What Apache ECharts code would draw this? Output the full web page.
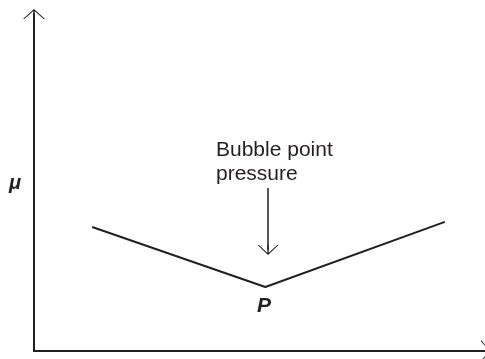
<!DOCTYPE html>
<html>
<head>
<meta charset="utf-8">
<script src="https://cdn.jsdelivr.net/npm/echarts@6/dist/echarts.min.js"></script>
<style>
  html, body { margin: 0; padding: 0; background: #fff; }
  #chart { width: 485px; height: 359px; }
</style>
</head>
<body>
<div id="chart"></div>
<script>
// viscosity vs pressure, schematic (arbitrary 0-100 units)
var pressure = [12.9, 51.3, 91.1];
var viscosity = [36.8, 19.0, 38.3];
// bubble point pointer: from label down towards the minimum
var pointerX = 51.9;
var pointerFrom = 48.4;
var pointerTo = 30.0;
var annotation = 'Bubble point\npressure';

var ink = '#231f20';
// open chevron arrow head, with a short stem so the line reaches the tip
var chevron = 'path://M11 0L22 10L20.6 10L11 1.4L1.4 10L0 10Z M10.3 0.7L11.7 0.7L11.7 10L10.3 10Z';

var chart = echarts.init(document.getElementById('chart'));
var pts = pressure.map(function (p, i) { return [p, viscosity[i]]; });

chart.setOption({
  animation: false,
  grid: { left: 34, right: 0, top: 14, bottom: 8 },
  xAxis: {
    type: 'value', min: 0, max: 100,
    axisLine: {
      show: true, symbol: ['none', chevron], symbolSize: [22, 10], symbolOffset: [0, 1],
      lineStyle: { color: ink, width: 2 }
    },
    axisTick: { show: false }, axisLabel: { show: false }, splitLine: { show: false }
  },
  yAxis: {
    type: 'value', min: 0, max: 100,
    axisLine: { show: true, symbol: ['none', chevron], symbolSize: [22, 10], lineStyle: { color: ink, width: 2 } },
    axisTick: { show: false }, axisLabel: { show: false }, splitLine: { show: false }
  },
  series: [{
    type: 'line',
    data: pts,
    symbol: 'none',
    lineStyle: { color: ink, width: 2 },
    markLine: {
      silent: true,
      label: { show: false },
      lineStyle: { color: ink, width: 1.5, type: 'solid' },
      symbolSize: [21, 10],
      data: [[
        { coord: [pointerX, pointerFrom], symbol: 'none' },
        { coord: [pointerX, pointerTo], symbol: chevron }
      ]]
    }
  }],
  graphic: [
    {
      type: 'text', left: 216, top: 138,
      style: { text: annotation, font: '21px "Liberation Sans", Arial, sans-serif', lineHeight: 24, fill: ink }
    },
    {
      type: 'text', left: 257, top: 296,
      style: { text: 'P', font: 'italic bold 21px "Liberation Sans", Arial, sans-serif', fill: ink }
    },
    {
      type: 'text', left: 9, top: 173,
      style: { text: 'μ', font: 'italic bold 20px "Liberation Sans", Arial, sans-serif', fill: ink }
    }
  ]
});
</script>
</body>
</html>
